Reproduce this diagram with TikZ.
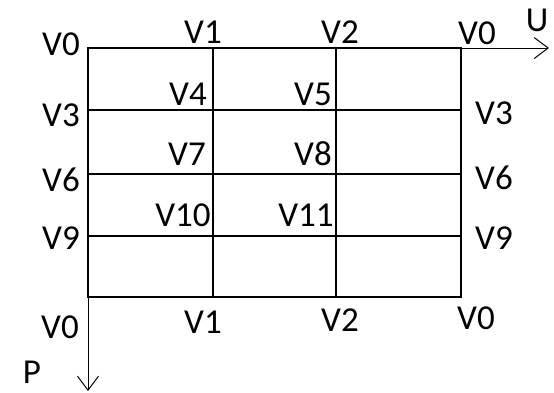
\documentclass[tikz,border=0pt]{standalone}
\usepackage{fontspec}
\setmainfont{Carlito}
\usetikzlibrary{arrows.meta}
\begin{document}
\begin{tikzpicture}[x=1pt,y=-1pt,
  gridline/.style={line width=2pt},
  axis/.style={line width=1pt,-{Straight Barb[length=14pt,width=21pt,line width=1pt]}},
  lbl/.style={inner sep=0pt,font=\fontsize{35}{40}\selectfont}]
\useasboundingbox (0,0) rectangle (554,392);
% grid corners and axis ends
\coordinate (tl) at (88,48);
\coordinate (tr) at (461,48);
\coordinate (bl) at (88,297);
\coordinate (br) at (461,297);
\coordinate (uend) at (549,48);
\coordinate (pend) at (88,391);
% cell grid
\draw[gridline] (tl) rectangle (br);
\foreach \x in {213,336} \draw[gridline] (\x,48) -- (\x,297);
\foreach \y in {110,174,236} \draw[gridline] (88,\y) -- (461,\y);
% axes
\draw[axis] (tl) -- (uend);
\draw[axis] (tl) -- (pend);
% axis labels
\node[lbl] (U) at (537,20) {U};
\node[lbl] (P) at (32,372) {P};
% top row
\node[lbl] (t0) at (61,44) {V0};
\node[lbl] (t1) at (203,32) {V1};
\node[lbl] (t2) at (340,32) {V2};
\node[lbl] (t3) at (477,33) {V0};
% inner vertices
\node[lbl] (v4) at (188,94) {V4};
\node[lbl] (v5) at (313,94) {V5};
\node[lbl] (v7) at (187,154) {V7};
\node[lbl] (v8) at (313,154) {V8};
\node[lbl] (v10) at (183,215) {V10};
\node[lbl] (v11) at (306,215) {V11};
% left column
\node[lbl] (l3) at (61,115) {V3};
\node[lbl] (l6) at (61,180) {V6};
\node[lbl] (l9) at (61,238) {V9};
\node[lbl] (l0) at (60,327) {V0};
% right column
\node[lbl] (r3) at (494,113) {V3};
\node[lbl] (r6) at (494,178) {V6};
\node[lbl] (r9) at (494,238) {V9};
% bottom row
\node[lbl] (b1) at (203,322) {V1};
\node[lbl] (b2) at (340,320) {V2};
\node[lbl] (b0) at (476,318) {V0};
\end{tikzpicture}
\end{document}
